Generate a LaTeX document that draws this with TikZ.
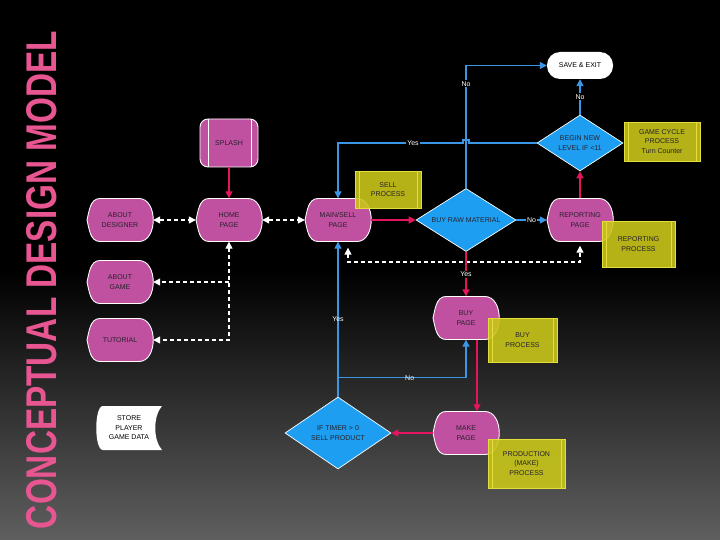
\documentclass[tikz,border=0pt]{standalone}
\usepackage{fontspec}
\setmainfont{Liberation Sans}
\usetikzlibrary{arrows.meta}
\usetikzlibrary{calc}
\usetikzlibrary{shapes.geometric}

\definecolor{pagepink}{RGB}{192,80,160}
\definecolor{deciblue}{RGB}{30,158,240}
\definecolor{linkblue}{RGB}{60,150,230}
\definecolor{linkred}{RGB}{228,20,95}
\definecolor{procyellow}{RGB}{200,198,25}
\definecolor{procedge}{RGB}{228,222,60}
\definecolor{darktext}{RGB}{40,34,44}
\definecolor{titlepink}{RGB}{232,86,146}
\definecolor{bottomgray}{RGB}{95,95,95}

\pgfdeclarelayer{back}
\pgfdeclarelayer{shapes}
\pgfsetlayers{back,shapes,main}

\newcommand{\nodefont}{\fontsize{7}{9.5}\selectfont}

% outline of a page (display shape) round a named node
\newcommand{\pageshape}[1]{%
  \draw[pageline, shift={(#1.center)}] (-20,-21.5) -- (19,-21.5)
    .. controls (38,-21.5) and (38,21.5) .. (19,21.5) -- (-20,21.5)
    .. controls (-30,21.5) and (-31,8) .. (-33,0)
    .. controls (-31,-8) and (-30,-21.5) .. (-20,-21.5) -- cycle;}

% stored data shape
\newcommand{\storeshape}[1]{%
  \fill[white, shift={(#1.center)}] (-26,-22) -- (33,-22)
    .. controls (24,-12) and (24,12) .. (33,22) -- (-26,22)
    .. controls (-35,22) and (-35,-22) .. (-26,-22) -- cycle;}

\tikzset{
  pagenode/.style={minimum width=66pt, minimum height=43pt, inner sep=0pt,
    align=center, font=\nodefont, text=darktext},
  pageline/.style={draw=white, fill=pagepink, line width=0.9pt},
  splashbox/.style={draw=white, fill=pagepink, line width=0.9pt, rounded corners=8pt,
    minimum width=58pt, minimum height=48pt, inner sep=0pt, font=\nodefont, text=darktext,
    path picture={\draw[white, line width=0.9pt]
      ($(path picture bounding box.north west)+(8,0)$) -- ($(path picture bounding box.south west)+(8,0)$)
      ($(path picture bounding box.north east)+(-7,0)$) -- ($(path picture bounding box.south east)+(-7,0)$);}},
  procbox/.style={draw=procedge, fill=procyellow, fill opacity=0.9, text opacity=1,
    line width=0.8pt, inner sep=0pt, align=center, font=\nodefont, text=darktext,
    path picture={\draw[procedge, line width=0.6pt]
      ($(path picture bounding box.north west)+(4,0)$) -- ($(path picture bounding box.south west)+(4,0)$)
      ($(path picture bounding box.north east)+(-4,0)$) -- ($(path picture bounding box.south east)+(-4,0)$);}},
  decision/.style={diamond, aspect=1.5, draw=white, fill=deciblue, line width=0.7pt,
    inner sep=0pt, align=center, font=\nodefont, text=darktext},
  exitbox/.style={fill=white, rounded corners=13pt, minimum width=66pt, minimum height=27pt,
    inner sep=0pt, font=\nodefont, text=black},
  storenode/.style={minimum width=66pt, minimum height=44pt, inner sep=0pt,
    align=center, font=\nodefont, text=black},
  redlink/.style={draw=linkred, line width=1.4pt, ->},
  bluelink/.style={draw=linkblue, line width=1.2pt, ->},
  whitelink/.style={draw=white, line width=1.3pt, dash pattern=on 4pt off 3pt},
  lbl/.style={text=white, font=\fontsize{7}{8}\selectfont, inner sep=1pt},
  lblbox/.style={lbl, fill=black}
}

\begin{document}
\begin{tikzpicture}[x=1pt, y=-1pt, >={Triangle[length=7pt, width=7pt]}]
  \useasboundingbox (0,0) rectangle (720,540);
  \begin{pgfonlayer}{back}
    \shade[top color=black, bottom color=bottomgray, middle color=black] (0,0) rectangle (720,540);
  \end{pgfonlayer}

  \node[rotate=90, text=titlepink, font=\fontsize{43}{43}\selectfont\bfseries] (title) at (42,280)
    {\scalebox{0.775}[1]{CONCEPTUAL DESIGN MODEL}};

  % pages
  \node[splashbox] (splash) at (229,143) {SPLASH};
  \node[pagenode] (designer) at (120,220) {ABOUT\\DESIGNER};
  \node[pagenode] (home) at (229,220) {HOME\\PAGE};
  \node[pagenode] (mainsell) at (338,220) {MAIN/SELL\\PAGE};
  \node[pagenode] (aboutgame) at (120,282) {ABOUT\\GAME};
  \node[pagenode] (tutorial) at (120,340) {TUTORIAL};
  \node[pagenode] (reporting) at (580,220) {REPORTING\\PAGE};
  \node[pagenode] (buypage) at (466,318) {BUY\\PAGE};
  \node[pagenode] (makepage) at (466,433) {MAKE\\PAGE};
  \node[storenode] (store) at (129,428) {STORE\\PLAYER\\GAME DATA};
  \node[exitbox] (save) at (580,65.5) {SAVE \& EXIT};

  \begin{pgfonlayer}{shapes}
    \foreach \pg in {designer,home,mainsell,aboutgame,tutorial,reporting,buypage,makepage}
      \pageshape{\pg};
    \storeshape{store}
  \end{pgfonlayer}

  % decisions
  \node[decision, minimum width=100pt, minimum height=63pt] (rawmat) at (466,220) {BUY RAW MATERIAL};
  \node[decision, minimum width=86pt, minimum height=56pt] (newlevel) at (580,143) {BEGIN NEW\\LEVEL IF <11};
  \node[decision, minimum width=106pt, minimum height=72pt] (timer) at (338,433) {IF TIMER > 0\\SELL PRODUCT};

  % processes
  \node[procbox, minimum width=66pt, minimum height=37pt] (sellproc) at (388,189.5) {SELL\\PROCESS};
  \node[procbox, minimum width=76pt, minimum height=39pt] (gamecycle) at (662,141.5) {GAME CYCLE\\PROCESS\\Turn Counter};
  \node[procbox, minimum width=73pt, minimum height=46pt] (reportproc) at (638.5,244) {REPORTING\\PROCESS};
  \node[procbox, minimum width=69pt, minimum height=44pt] (buyproc) at (522.5,340) {BUY\\PROCESS};
  \node[procbox, minimum width=77pt, minimum height=49pt] (prodproc) at (526.5,463.5) {PRODUCTION\\(MAKE)\\PROCESS};

  % menu links
  \draw[redlink] (splash) -- (home);
  \draw[whitelink, <->] (designer) -- (home);
  \draw[whitelink, <->] (home) -- (mainsell);
  \draw[whitelink, <->] (home.south) -- (home.south |- tutorial) -- (tutorial);
  \draw[whitelink, ->] (home.south |- aboutgame) -- (aboutgame);

  % game cycle
  \draw[redlink] (mainsell) -- (rawmat);
  \draw[bluelink] (rawmat) -- node[lblbox] {No} (reporting);
  \draw[redlink] (reporting) -- (newlevel);
  \draw[bluelink] (newlevel) -- node[lblbox] {No} (save);
  \draw[bluelink] (rawmat.north) -- node[lblbox, pos=0.85] {No} (rawmat.north |- save) -- (save);
  \draw[bluelink] (newlevel) -- ($(rawmat.north |- newlevel)+(3,0)$) -- ++(0,-3) -- ++(-6,0) -- ++(0,3)
    -- node[lblbox, pos=0.4] {Yes} (mainsell.north |- newlevel) -- (mainsell);
  \coordinate (dashturn) at (348,262);
  \draw[whitelink, <->, shorten <=6pt, shorten >=4pt] (mainsell.south -| dashturn) -- (dashturn) -| (reporting.south);

  % buy, make and sell
  \draw[redlink] (rawmat) -- node[lblbox] {Yes} (buypage);
  \draw[redlink] ($(buypage.south)+(11,0)$) -- ($(makepage.north)+(11,0)$);
  \draw[redlink] (makepage) -- (timer);
  \draw[bluelink] (timer) -- node[lbl] {Yes} (mainsell);
  \draw[bluelink] (timer.north) -- ++(0,-19) -| node[lbl, pos=0.28] {No} (buypage);
\end{tikzpicture}
\end{document}
